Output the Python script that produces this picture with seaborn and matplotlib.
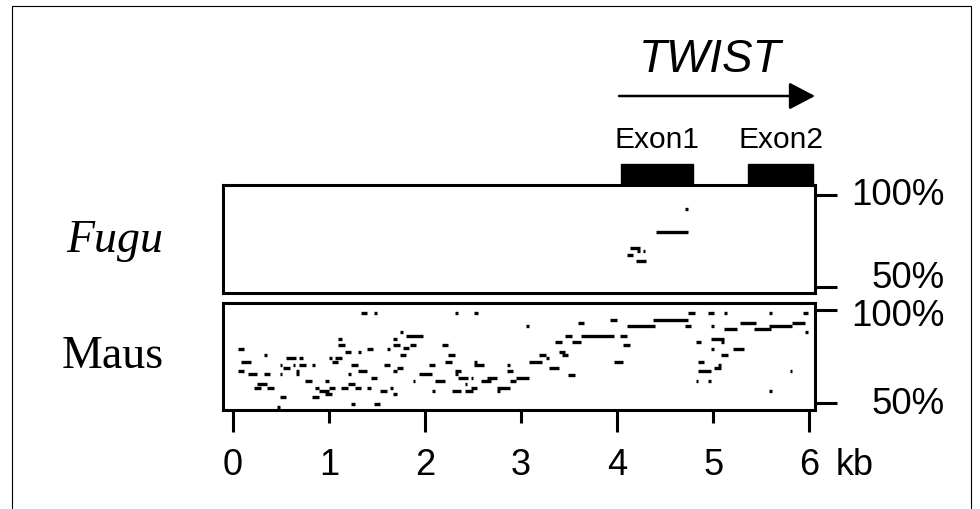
import numpy as np
import pandas as pd
import seaborn as sns
import matplotlib.pyplot as plt
from matplotlib.patches import Rectangle

# conserved segments: start (kb), end (kb), identity (%)
fugu_start = [4.708, 4.406, 4.135, 4.208, 4.101, 4.268, 4.198]
fugu_end = [4.740, 4.740, 4.240, 4.240, 4.163, 4.295, 4.302]
fugu_pct = [92.3, 79.6, 71.1, 69.3, 67.5, 69.3, 63.9]

maus_start = [1.336, 1.094, 1.094, 0.052, 1.170, 1.302, 1.396, 0.323, 0.555, 0.691,
              0.997, 1.066, 1.031, 0.086, 0.490, 0.521, 0.622, 0.691, 0.823, 1.232,
              0.052, 0.656, 0.656, 1.302, 0.156, 0.323, 0.490, 1.198, 1.434, 0.753,
              0.961, 0.253, 0.219, 0.357, 0.857, 0.893, 0.997, 0.961, 1.128, 1.198,
              1.268, 1.399, 0.490, 0.823, 1.232, 0.461, 1.469, 2.313, 2.510, 1.740,
              1.802, 1.670, 1.670, 1.844, 2.177, 1.607, 1.768, 1.740, 2.240, 2.211,
              2.510, 2.510, 2.851, 1.573, 2.045, 1.705, 1.670, 2.316, 2.316, 2.851,
              1.941, 2.344, 2.482, 2.649, 2.580, 1.872, 2.107, 2.885, 2.948, 2.414,
              2.482, 2.753, 1.635, 1.531, 2.073, 2.281, 2.414, 2.753, 1.670, 1.469,
              3.052, 3.594, 3.927, 4.375, 4.107, 3.461, 3.628, 4.031, 3.351, 3.531,
              4.066, 3.399, 3.427, 3.191, 3.260, 3.086, 3.969, 3.295, 3.490, 4.740,
              4.948, 5.115, 5.586, 5.934, 5.281, 5.823, 4.705, 4.982, 5.586, 5.115,
              5.420, 5.961, 4.982, 5.080, 4.816, 4.982, 5.211, 5.080, 4.844, 5.045,
              5.010, 4.844, 5.795, 4.816, 4.948, 5.586]
maus_end = [1.396, 1.135, 1.164, 0.115, 1.232, 1.330, 1.458, 0.351, 0.656, 0.726,
            1.031, 1.135, 1.094, 0.184, 0.510, 0.597, 0.649, 0.760, 0.857, 1.302,
            0.115, 0.684, 0.684, 1.396, 0.247, 0.385, 0.510, 1.226, 1.497, 0.823,
            0.997, 0.351, 0.289, 0.427, 0.893, 0.997, 1.066, 1.031, 1.198, 1.268,
            1.330, 1.434, 0.552, 0.893, 1.268, 0.490, 1.497, 2.344, 2.552, 1.768,
            1.976, 1.705, 1.740, 1.906, 2.240, 1.635, 1.836, 1.802, 2.309, 2.281,
            2.545, 2.615, 2.885, 1.635, 2.101, 1.768, 1.705, 2.372, 2.344, 2.914,
            2.073, 2.448, 2.503, 2.747, 2.684, 1.899, 2.205, 2.948, 3.080, 2.441,
            2.545, 2.885, 1.664, 1.601, 2.101, 2.372, 2.503, 2.781, 1.705, 1.531,
            3.080, 3.656, 3.997, 4.740, 4.399, 3.531, 3.969, 4.101, 3.427, 3.622,
            4.135, 3.455, 3.490, 3.260, 3.289, 3.219, 4.059, 3.393, 3.559, 4.809,
            5.010, 5.143, 5.615, 5.990, 5.448, 5.955, 4.768, 5.010, 5.823, 5.247,
            5.607, 5.990, 5.115, 5.115, 4.872, 5.010, 5.316, 5.149, 4.906, 5.080,
            5.080, 4.976, 5.823, 4.844, 4.976, 5.615]
maus_pct = [98.2, 84.4, 81.2, 79.0, 77.3, 77.3, 79.0, 75.8, 74.0, 74.0,
            74.0, 74.2, 72.2, 72.2, 70.4, 68.7, 70.4, 70.4, 70.4, 70.4,
            67.2, 67.2, 65.4, 67.2, 65.4, 65.4, 65.4, 65.4, 63.3, 61.8,
            61.8, 60.2, 58.2, 58.2, 58.2, 56.5, 58.2, 54.7, 58.2, 60.2,
            58.2, 58.2, 53.1, 53.1, 49.6, 47.8, 98.2, 98.2, 98.2, 88.0,
            86.2, 84.4, 81.2, 81.2, 81.2, 79.0, 79.4, 75.8, 75.8, 72.2,
            72.2, 70.4, 70.4, 70.4, 70.4, 68.7, 67.2, 67.2, 65.4, 67.2,
            65.4, 63.3, 63.3, 63.3, 61.8, 61.8, 61.8, 61.8, 63.3, 60.0,
            58.2, 58.2, 58.2, 56.5, 56.5, 56.5, 56.5, 56.5, 54.7, 49.6,
            91.2, 93.0, 94.8, 94.8, 91.2, 86.2, 86.2, 86.2, 82.6, 82.6,
            81.0, 77.3, 75.8, 75.8, 74.0, 72.2, 72.2, 68.7, 65.1, 98.2,
            98.2, 98.2, 98.2, 98.2, 93.0, 93.0, 91.2, 91.2, 91.2, 89.6,
            89.6, 88.0, 84.4, 82.6, 82.6, 79.0, 79.0, 75.8, 72.2, 70.4,
            68.7, 67.2, 67.2, 61.8, 61.8, 56.5]

exon_names = ['Exon1', 'Exon2']
exon_start = [4.04, 5.365]
exon_end = [4.79, 6.04]

x_ticks = [0, 1, 2, 3, 4, 5, 6]
y_ticks = [50, 100]

sns.set_style('ticks')
plt.rcParams['font.family'] = ['Liberation Sans', 'DejaVu Sans']
plt.rcParams['text.color'] = 'black'
plt.rcParams['xtick.color'] = 'black'
plt.rcParams['ytick.color'] = 'black'

fig = plt.figure(figsize=(9.8, 5.1), dpi=100)
ax_f = fig.add_axes([223 / 980, 1 - 294 / 510, 592 / 980, 108 / 510])
ax_m = fig.add_axes([223 / 980, 1 - 410.5 / 510, 592 / 980, 106.5 / 510])


def draw_panel(ax, start, end, pct, ylim):
    n = len(start)
    df = pd.DataFrame({'kb': list(start) + list(end),
                       'pct': list(pct) * 2,
                       'seg': list(range(n)) * 2})
    sns.lineplot(data=df, x='kb', y='pct', units='seg', estimator=None,
                 sort=False, color='black', lw=2.4, solid_capstyle='butt',
                 legend=False, ax=ax)
    ax.set_xlim(-0.104, 6.06)
    ax.set_ylim(*ylim)
    ax.set_xlabel('')
    ax.set_ylabel('')
    for sp in ax.spines.values():
        sp.set_visible(True)
        sp.set_linewidth(2.2)
        sp.set_color('black')
    ax.yaxis.tick_right()
    ax.set_yticks(y_ticks)
    ax.set_yticklabels([])
    ax.tick_params(axis='y', which='major', right=True, left=False,
                   direction='out', length=16, width=2.2, color='black')


draw_panel(ax_f, fugu_start, fugu_end, fugu_pct, (46.75, 105.3))
draw_panel(ax_m, maus_start, maus_end, maus_pct, (46.4, 103.8))

ax_f.set_xticks([])

ax_m.set_xticks([0, 2, 4, 6])
ax_m.set_xticklabels([str(t) for t in x_ticks[::2]])
ax_m.set_xticks([1, 3, 5], minor=True)
ax_m.set_xticklabels([str(t) for t in x_ticks[1::2]], minor=True)
ax_m.tick_params(axis='x', which='major', bottom=True, direction='out',
                 length=16, width=2.2, pad=11, labelsize=26, color='black',
                 labelcolor='black')
ax_m.tick_params(axis='x', which='minor', bottom=True, direction='out',
                 length=9, width=2.2, pad=18, labelsize=26, color='black',
                 labelcolor='black')
fig.text(855 / 980, 1 - 475 / 510, 'kb', ha='center', va='baseline', fontsize=26)

# percent labels at right
ax_f.text(1.2196, 100, '100%', transform=ax_f.get_yaxis_transform(),
          ha='right', va='center', fontsize=26.5)
ax_f.text(1.2196, 55.4, '50%', transform=ax_f.get_yaxis_transform(),
          ha='right', va='center', fontsize=26.5)
ax_m.text(1.2196, 97.0, '100%', transform=ax_m.get_yaxis_transform(),
          ha='right', va='center', fontsize=26.5)
ax_m.text(1.2196, 49.5, '50%', transform=ax_m.get_yaxis_transform(),
          ha='right', va='center', fontsize=26.5)

# exons and gene arrow
tr = ax_f.get_xaxis_transform()
for name, s, e in zip(exon_names, exon_start, exon_end):
    ax_f.add_patch(Rectangle((s, 1.0), e - s, 0.194, transform=tr,
                             facecolor='black', edgecolor='black', clip_on=False))
    ax_f.text((s + e) / 2, 1.352, name, transform=tr, ha='center',
              va='baseline', fontsize=21.5)

ax_f.annotate('', xy=(6.06, 1.824), xytext=(4.02, 1.824), xycoords=tr,
              textcoords=tr, annotation_clip=False,
              arrowprops=dict(arrowstyle='-|>,head_length=0.8,head_width=0.42',
                              mutation_scale=20, lw=1.8, color='black',
                              shrinkA=0, shrinkB=0))
ax_f.text(4.97, 2.055, 'TWIST', transform=tr, ha='center', va='baseline',
          fontsize=33, fontstyle='italic')

# species labels
fig.text(115 / 980, 1 - 252 / 510, 'Fugu', ha='center', va='baseline',
         fontsize=33, fontstyle='italic', family=['Liberation Serif', 'DejaVu Serif'])
fig.text(113 / 980, 1 - 368 / 510, 'Maus', ha='center', va='baseline',
         fontsize=33, family=['Liberation Serif', 'DejaVu Serif'])

# outer frame
fig.add_artist(Rectangle((12 / 980, -0.05), (971 - 12) / 980, 1.05 - 7 / 510,
                         transform=fig.transFigure, fill=False,
                         edgecolor='black', lw=0.8))

fig.savefig('out.png', dpi=100)
